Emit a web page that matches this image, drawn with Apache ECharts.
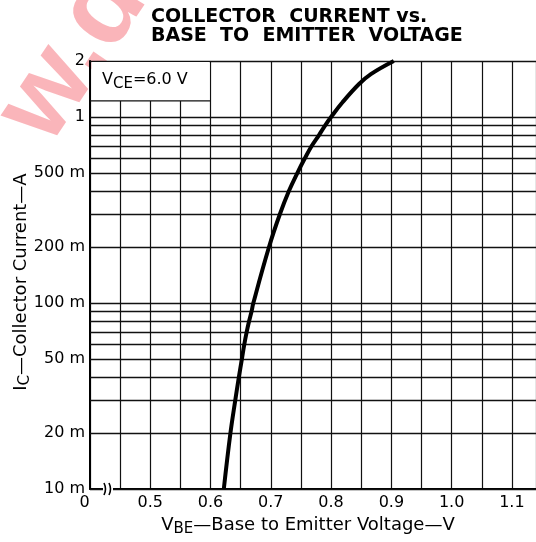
<!DOCTYPE html>
<html><head><meta charset="utf-8">
<script src="https://cdn.jsdelivr.net/npm/echarts@6/dist/echarts.min.js"></script>
<style>html,body{margin:0;padding:0;background:#fff}#c{width:536px;height:542px}</style>
</head><body><div id="c"></div>
<script>
// Curve: V_BE (V) vs I_C (A)
const vbe = [0.622, 0.633, 0.641, 0.647, 0.652, 0.656, 0.660, 0.664, 0.668, 0.671, 0.697, 0.715, 0.730, 0.744, 0.7565, 0.768, 0.780, 0.790, 0.800, 0.819, 0.846, 0.866, 0.904];
const ic  = [0.01,  0.02,  0.03,  0.04,  0.05,  0.06,  0.07,  0.08,  0.09,  0.10,  0.20,  0.30,  0.40,  0.50,  0.60,   0.70,  0.80,  0.90,  1.00,  1.20,  1.50,  1.70,  2.00];
// X tick labels
const xLabelValues = [0.4, 0.5, 0.6, 0.7, 0.8, 0.9, 1.0, 1.1];
const xLabelTexts  = ['0', '0.5', '0.6', '0.7', '0.8', '0.9', '1.0', '1.1'];
// Y grid lines and labels
const yGridValues = [0.01,0.02,0.03,0.04,0.05,0.06,0.07,0.08,0.09,0.1,0.2,0.3,0.4,0.5,0.6,0.7,0.8,0.9,1,2];
const yLabelValues = [0.01, 0.02, 0.05, 0.1, 0.2, 0.5, 1, 2];
const yLabelTexts  = ['10 m', '20 m', '50 m', '100 m', '200 m', '500 m', '1', '2'];
// Condition box (data coords)
const boxX = [0.4, 0.6];
const boxY = [1.22, 2];
const breakAt = [0.43, 0.01];

const chart = echarts.init(document.getElementById('c'), null, {renderer: 'canvas'});
const pts = vbe.map((v, i) => [v, ic[i]]);
const fontFam = '"DejaVu Sans", sans-serif';

function yLabelFor(v) {
  const i = yLabelValues.findIndex(x => Math.abs(x - v) < 1e-9);
  return i >= 0 ? yLabelTexts[i] : '';
}
function xLabelFor(v) {
  const i = xLabelValues.findIndex(x => Math.abs(x - v) < 1e-6);
  if (i < 0) return '';
  return i === 0 ? '{z|' + xLabelTexts[i] + '}' : xLabelTexts[i];
}
const nameRich = {
  v: {fontSize: 18, fontFamily: fontFam, color: '#000', lineHeight: 18, verticalAlign: 'top'},
  s: {fontSize: 15, fontFamily: fontFam, color: '#000', lineHeight: 15, verticalAlign: 'top', padding: [6, 0, 0, 0]}
};

const option = {
  animation: false,
  backgroundColor: '#fff',
  title: {
    text: 'COLLECTOR  CURRENT vs.\nBASE  TO  EMITTER  VOLTAGE',
    left: 146, top: 3,
    textStyle: {fontFamily: '"DejaVu Sans", sans-serif', fontWeight: 'bold', fontSize: 19, lineHeight: 19, color: '#000'}
  },
  grid: {left: 90, top: 61, right: 0, bottom: 51, containLabel: false},
  xAxis: {
    type: 'value', min: 0.4, max: 1.14, interval: 0.05,
    axisLine: {show: true, onZero: false, lineStyle: {color: '#000', width: 2}},
    axisTick: {show: false},
    splitLine: {show: true, lineStyle: {color: '#111', width: 1.2}},
    axisLabel: {
      color: '#000', fontSize: 16, fontFamily: fontFam, margin: 6,
      formatter: v => xLabelFor(v), showMaxLabel: false,
      rich: {z: {fontSize: 16, fontFamily: fontFam, color: '#000', padding: [0, 11, 0, 0]}}
    },
    name: '{v|V}{s|BE}{v|—Base to Emitter Voltage—V}',
    nameLocation: 'middle', nameGap: 22,
    nameTextStyle: {rich: nameRich, padding: [0, 10, 0, 0]}
  },
  yAxis: {
    type: 'log', logBase: 10, min: 0.01, max: 2,
    axisLine: {show: true, lineStyle: {color: '#000', width: 2}},
    axisTick: {show: false},
    splitLine: {show: false},
    minorSplitLine: {show: false},
    axisLabel: {show: false},
    name: '{v|I}{s|C}{v|—Collector Current—A}',
    nameLocation: 'middle', nameGap: 60, nameRotate: 90,
    nameTextStyle: {rich: nameRich, padding: [0, 14, 0, 0]}
  },
  series: [{
    type: 'line',
    data: pts,
    smooth: 0.4,
    showSymbol: false,
    symbol: 'none',
    lineStyle: {color: '#000', width: 4},
    z: 5,
    markLine: {
      silent: true,
      symbol: ['none', 'none'],
      animation: false,
      lineStyle: {color: '#111', width: 1.3, type: 'solid'},
      emphasis: {disabled: true},
      data: yGridValues.map(v => ({
        yAxis: v,
        label: {
          show: yLabelFor(v) !== '',
          position: 'start',
          distance: 5,
          formatter: yLabelFor(v),
          color: '#000', fontSize: 16, fontFamily: fontFam
        }
      }))
    }
  }]
};
chart.setOption(option);

// Decorations placed through the chart's own coordinate conversion
const pA = chart.convertToPixel({gridIndex: 0}, [boxX[0], boxY[0]]);
const pB = chart.convertToPixel({gridIndex: 0}, [boxX[1], boxY[0]]);
const pT = chart.convertToPixel({gridIndex: 0}, [boxX[0], boxY[1]]);
const pk = chart.convertToPixel({gridIndex: 0}, breakAt);
const bx = Math.round(pk[0]), by = Math.round(pk[1]);

chart.setOption({
  graphic: [
    {
      type: 'text', z: -10,
      x: -22, y: 100, rotation: Math.PI / 3.2,
      style: {text: 'w.de', fontSize: 110, fontWeight: 'bold', fontFamily: '"Liberation Sans", Arial, sans-serif', fill: 'rgba(246,120,130,0.55)'}
    },
    {
      type: 'rect', z: 100,
      shape: {x: pA[0] + 1.5, y: pT[1] + 1, width: pB[0] - pA[0] - 2.5, height: pA[1] - pT[1] - 1},
      style: {fill: '#fff'}
    },
    {
      type: 'line', z: 101,
      shape: {x1: pA[0], y1: pA[1], x2: pB[0], y2: pB[1]},
      style: {stroke: '#111', lineWidth: 1.3}
    },
    {
      type: 'text', z: 102,
      x: pA[0] + 12, y: (pA[1] + pT[1]) / 2 - 1,
      style: {
        text: '{v|V}{s|CE}{v|=6.0 V}',
        verticalAlign: 'middle', align: 'left',
        rich: {
          v: {fontSize: 16, fontFamily: fontFam, fill: '#000', lineHeight: 16, verticalAlign: 'top'},
          s: {fontSize: 15, fontFamily: fontFam, fill: '#000', lineHeight: 15, verticalAlign: 'top', padding: [5, 0, 0, 0]}
        }
      }
    },
    {
      type: 'rect', z: 100,
      shape: {x: bx - 5, y: by - 4, width: 10, height: 8},
      style: {fill: '#fff'}
    },
    {
      type: 'bezierCurve', z: 101,
      shape: {x1: bx - 4, y1: by - 6, cpx1: bx - 1, cpy1: by, x2: bx - 4, y2: by + 6},
      style: {stroke: '#000', lineWidth: 1.6, fill: null}
    },
    {
      type: 'bezierCurve', z: 101,
      shape: {x1: bx + 1, y1: by - 6, cpx1: bx + 4, cpy1: by, x2: bx + 1, y2: by + 6},
      style: {stroke: '#000', lineWidth: 1.6, fill: null}
    }
  ]
});
</script>
</body></html>
